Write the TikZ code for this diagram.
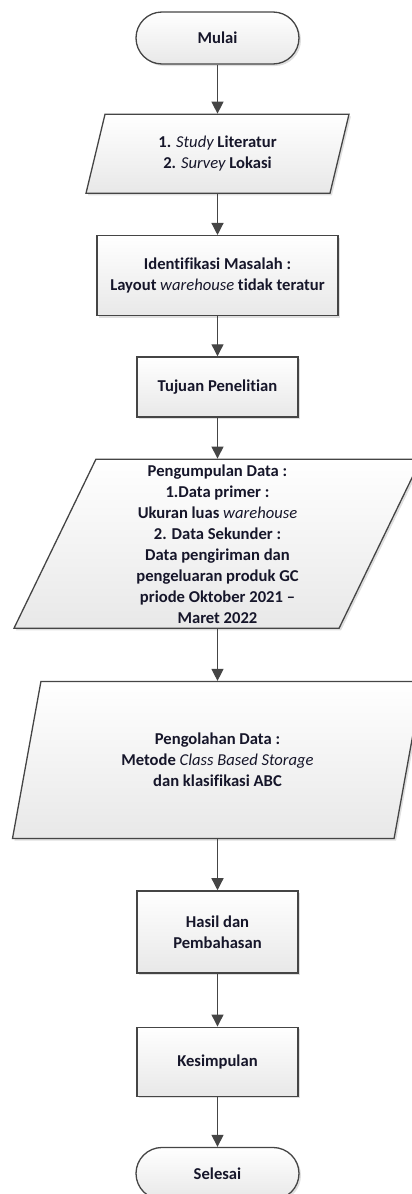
\documentclass[tikz,border=0pt]{standalone}
\usepackage{fontspec}
\setmainfont{Carlito}[Ligatures=NoCommon]
\usetikzlibrary{shapes.geometric, arrows.meta, positioning, shadows}

\definecolor{edgegray}{HTML}{454545}
\definecolor{txtcol}{HTML}{16162A}
\newcommand{\miring}[1]{{\mdseries\itshape #1}}

\tikzset{
  base/.style={draw=edgegray, line width=1.3pt, top color=white, bottom color=black!9,
    drop shadow={shadow xshift=2pt, shadow yshift=-2pt, opacity=0.25},
    align=center, text=txtcol, font=\fontsize{16.6}{21}\selectfont\bfseries, inner sep=1pt},
  terminal/.style={base, rectangle, rounded corners=26pt, minimum width=163pt, minimum height=52pt},
  process/.style={base, rectangle, minimum width=161pt},
  io/.style={base, trapezium, trapezium left angle=63, trapezium right angle=117, trapezium stretches body},
  flow/.style={edgegray, line width=1.3pt, -{Triangle[width=12pt,length=12pt]}}
}

\begin{document}
\begin{tikzpicture}
    \useasboundingbox (0,0) rectangle (412pt,-1194pt);

    % Nodes
    \node (mulai) [terminal] at (217.5pt,-38pt) {Mulai};
    \node (studi) [io, below=49pt of mulai, minimum width=263pt, minimum height=79pt]
        {1. \miring{Study} Literatur\\2. \miring{Survey} Lokasi};
    \node (identifikasi) [process, below=41pt of studi, minimum width=241pt, minimum height=80pt]
        {Identifikasi Masalah :\\Layout \miring{warehouse} tidak teratur};
    \node (tujuan) [process, below=40pt of identifikasi, minimum height=60pt] {Tujuan Penelitian};
    \node (pengumpulan) [io, below=41pt of tujuan, minimum width=407pt, minimum height=169pt]
        {Pengumpulan Data :\\1.Data primer :\\Ukuran luas \miring{warehouse}\\2. Data Sekunder :\\
         Data pengiriman dan\\pengeluaran produk GC\\priode Oktober 2021 --\\Maret 2022};
    \node (pengolahan) [io, below=52pt of pengumpulan, minimum width=410pt, minimum height=157pt]
        {Pengolahan Data :\\Metode \miring{Class Based Storage}\\dan klasifikasi ABC};
    \node (hasil) [process, below=51pt of pengolahan, minimum height=82pt] {Hasil dan\\Pembahasan};
    \node (kesimpulan) [process, below=53pt of hasil, minimum height=69pt] {Kesimpulan};
    \node (selesai) [terminal, below=50pt of kesimpulan] {Selesai};

    % Connections
    \draw[flow] (mulai.south) -- (studi.north);
    \draw[flow] (studi.south) -- (identifikasi.north);
    \draw[flow] (identifikasi.south) -- (tujuan.north);
    \draw[flow] (tujuan.south) -- (pengumpulan.north);
    \draw[flow] (pengumpulan.south) -- (pengolahan.north);
    \draw[flow] (pengolahan.south) -- (hasil.north);
    \draw[flow] (hasil.south) -- (kesimpulan.north);
    \draw[flow] (kesimpulan.south) -- (selesai.north);

\end{tikzpicture}
\end{document}
